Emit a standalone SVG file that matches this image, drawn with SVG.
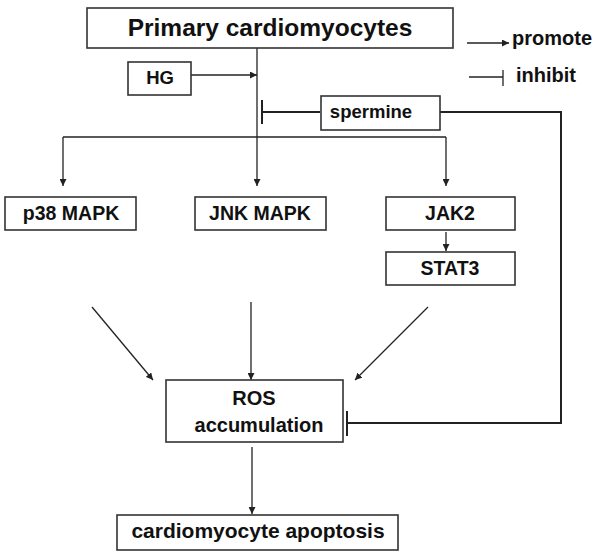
<svg xmlns="http://www.w3.org/2000/svg" width="600" height="555" viewBox="0 0 600 555">
<defs>
<style>
.box{fill:#fff;stroke:#333;stroke-width:1.6}
.t{font-family:"Liberation Sans",Arial,sans-serif;font-weight:bold;fill:#111;text-anchor:middle}
.ln{fill:none;stroke:#222;stroke-width:1.3}
.inh{fill:none;stroke:#222;stroke-width:2}
</style>
<marker id="ar" viewBox="0 0 10 10" refX="10" refY="5" markerWidth="7" markerHeight="7" markerUnits="userSpaceOnUse" orient="auto">
<path d="M0,0 L10,5 L0,10 z" fill="#222"/>
</marker>
</defs>
<rect width="600" height="555" fill="#fff"/>
<g id="connectors">
<line class="ln" x1="257" y1="48" x2="257" y2="186" marker-end="url(#ar)"/>
<line class="ln" x1="191" y1="75" x2="257" y2="75" marker-end="url(#ar)"/>
<line class="inh" x1="262" y1="112" x2="320" y2="112"/>
<line class="inh" x1="262" y1="100" x2="262" y2="124"/>
<line class="ln" x1="63" y1="137" x2="446" y2="137"/>
<line class="ln" x1="63" y1="137" x2="63" y2="186" marker-end="url(#ar)"/>
<line class="ln" x1="446" y1="137" x2="446" y2="186" marker-end="url(#ar)"/>
<line class="ln" x1="446" y1="232" x2="446" y2="251" marker-end="url(#ar)"/>
<line class="ln" x1="92" y1="307" x2="153" y2="380" marker-end="url(#ar)"/>
<line class="ln" x1="251" y1="302" x2="251" y2="380" marker-end="url(#ar)"/>
<line class="ln" x1="428" y1="307" x2="355" y2="380" marker-end="url(#ar)"/>
<polyline class="inh" points="440,112 561,112 561,423 347,423"/>
<line class="inh" x1="347" y1="411" x2="347" y2="436"/>
<line class="ln" x1="252" y1="447" x2="252" y2="514" marker-end="url(#ar)"/>
</g>
<g id="primary">
<rect class="box" x="87" y="8" width="366" height="40"/>
<text class="t" x="270" y="36" font-size="24.5">Primary cardiomyocytes</text>
</g>
<g id="hg">
<rect class="box" x="128" y="62" width="63" height="33"/>
<text class="t" x="160" y="84" font-size="18.5">HG</text>
</g>
<g id="spermine">
<rect class="box" x="321" y="96" width="119" height="34"/>
<text class="t" x="371" y="118" font-size="18.5">spermine</text>
</g>
<g id="p38">
<rect class="box" x="5" y="197" width="131" height="33"/>
<text class="t" x="71" y="220" font-size="19.5">p38 MAPK</text>
</g>
<g id="jnk">
<rect class="box" x="195" y="197" width="131" height="33"/>
<text class="t" x="260" y="220" font-size="19.5">JNK MAPK</text>
</g>
<g id="jak2">
<rect class="box" x="386" y="197" width="129" height="33"/>
<text class="t" x="450" y="220" font-size="19.5">JAK2</text>
</g>
<g id="stat3">
<rect class="box" x="386" y="252" width="129" height="33"/>
<text class="t" x="450" y="275" font-size="19.5">STAT3</text>
</g>
<g id="ros">
<rect class="box" x="166" y="380" width="177" height="62"/>
<text class="t" x="254" y="405" font-size="20">ROS</text>
<text class="t" x="259" y="432" font-size="20">accumulation</text>
</g>
<g id="apoptosis">
<rect class="box" x="117" y="515" width="281" height="35"/>
<text class="t" x="258" y="538" font-size="21">cardiomyocyte apoptosis</text>
</g>
<g id="legend">
<line class="ln" x1="467" y1="43" x2="509" y2="43" marker-end="url(#ar)"/>
<text class="t" x="552" y="45" font-size="20">promote</text>
<line class="ln" x1="469" y1="77" x2="503" y2="77"/>
<line class="ln" x1="503" y1="70" x2="503" y2="86" stroke-width="1.6"/>
<text class="t" x="546" y="82" font-size="20">inhibit</text>
</g>
</svg>
